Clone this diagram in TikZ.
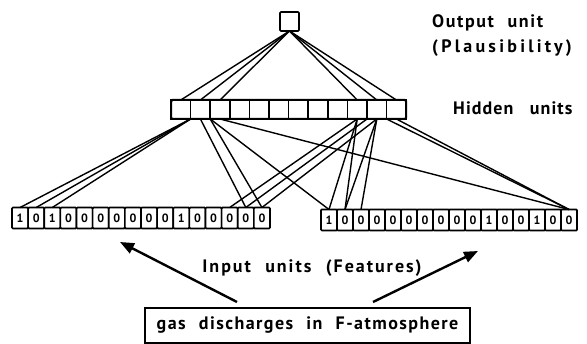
\documentclass[tikz,border=0pt]{standalone}
\usepackage{fontspec}
\setmainfont{PT Sans}
\newfontfamily\labelfont{PT Sans}[WordSpace=2.2]
\usetikzlibrary{arrows.meta,calc}
\newcommand{\spaced}[1]{\addfontfeatures{LetterSpace=#1}}
\begin{document}
\begin{tikzpicture}[x=1pt,y=-1pt,
  wire/.style={line width=1.4pt},
  unitbox/.style={draw, line width=1.7pt, fill=white, inner sep=0pt, outer sep=0pt},
  hcell/.style={unitbox, minimum width=19.6pt, minimum height=19pt},
  icell/.style={unitbox, rounded corners=1pt, minimum width=16.1pt, minimum height=21pt,
    font=\bfseries\fontsize{12}{12}\selectfont},
  lbl/.style={font=\labelfont\bfseries\fontsize{18}{20}\selectfont, inner sep=0pt, align=left},
  bigarrow/.style={line width=2.4pt, -{Triangle[length=14pt,width=11pt]}}
]
\useasboundingbox (0,0) rectangle (587,344);

% output unit
\node[unitbox, rounded corners=1pt, minimum width=19pt, minimum height=19pt] (out) at (289.5,21.5) {};

% hidden layer: twelve cells
\foreach \i in {1,...,12}
  \node[hcell] (h\i) at ({171+19.6*(\i-0.5)},109.5) {};
\draw[line width=2pt, rounded corners=1.5pt] (h1.north west) rectangle (h12.south east);

% input layers: sixteen feature cells each
\foreach \d [count=\i] in {1,0,1,0,0,0,0,0,0,0,1,0,0,0,0,0}
  \node[icell] (l\i) at ({12+16.125*(\i-0.5)},218) {\d};
\foreach \d [count=\i] in {1,0,0,0,0,0,0,0,0,0,1,0,0,1,0,0}
  \node[icell] (r\i) at ({321+16*(\i-0.5)},220) {\d};

% output -> hidden
\foreach \j in {1,2,3,10,11,12}
  \draw[wire] (out.south) -- (h\j.north);

% hidden -> left input
\foreach \k in {1,2,3}
  \draw[wire] (h1.south east) -- (l\k.north);
\draw[wire] (h2.south) -- (l15.north);
\draw[wire] (h2.south east) -- (l16.north);
\draw[wire] (h10.south) -- (l14.north);
\draw[wire] (h10.south east) -- (l15.north);
\draw[wire] (h11.south) -- (l16.north);

% hidden -> right input
\draw[wire] (h3.south west) -- (r1.north);
\draw[wire] (h3.south) -- (r16.north);
\draw[wire] (h10.south) -- (r1.north);
\draw[wire] (h10.south) -- (r2.north);
\draw[wire] (h11.south) -- (r2.north);
\draw[wire] (h11.south) -- (r3.north);
\draw[wire] (h11.south east) -- (r16.north);
\draw[wire] (h12.south) -- (r16.north);

% labels
\node[lbl, anchor=west] (outlbl) at (432,23) {\spaced{9}Output unit};
\node[lbl, anchor=east] (plaus) at (572,48) {\spaced{18}(Plausibility)};
\node[lbl, anchor=west] (hidlbl) at (453,108) {\spaced{6}Hidden\hspace{4pt} units};
\node[lbl, anchor=center] (inlbl) at (312,268) {\spaced{11}Input units (Features)};

% source box
\node[unitbox, line width=1.3pt, minimum width=325pt, minimum height=35pt,
      font=\labelfont\bfseries\fontsize{18}{20}\selectfont] (gas) at (307.5,325.5)
      {\spaced{8}gas discharges in F-atmosphere};

\coordinate (a1s) at (237,302);
\coordinate (a1e) at (120,242);
\coordinate (a2s) at (373,302);
\coordinate (a2e) at (478,251);
\draw[bigarrow] (a1s) -- (a1e);
\draw[bigarrow] (a2s) -- (a2e);
\end{tikzpicture}
\end{document}
